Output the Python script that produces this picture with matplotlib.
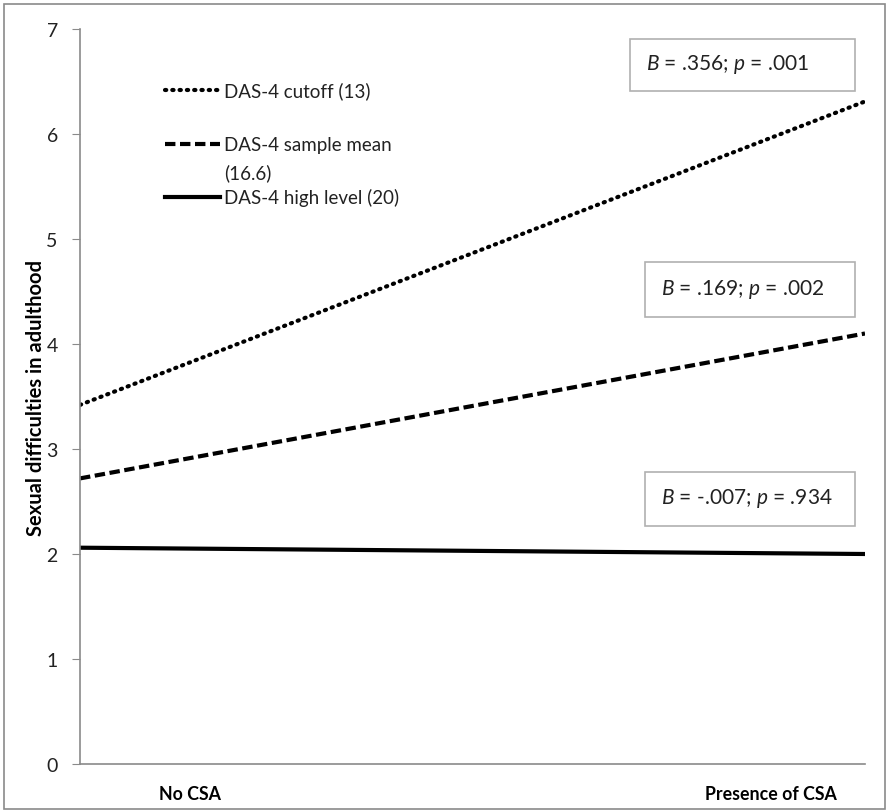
import matplotlib
matplotlib.use("Agg")
import matplotlib.pyplot as plt
from matplotlib.patches import Rectangle

plt.rcParams['font.family'] = ['Lato', 'DejaVu Sans']
plt.rcParams['mathtext.fontset'] = 'custom'
plt.rcParams['mathtext.it'] = 'Lato:italic'
plt.rcParams['mathtext.rm'] = 'Lato'

categories = ["No CSA", "Presence of CSA"]
series_names = ["DAS-4 cutoff (13)", "DAS-4 sample mean", "DAS-4 high level (20)"]
mean_extra = "(16.6)"
cutoff_vals = [3.42, 6.31]
mean_vals = [2.72, 4.10]
high_vals = [2.06, 2.00]
box_texts = [r"$B$ = .356; $p$ = .001",
             r"$B$ = .169; $p$ = .002",
             r"$B$ = -.007; $p$ = .934"]
y_ticks = [0, 1, 2, 3, 4, 5, 6, 7]

W, H = 888, 812
fig = plt.figure(figsize=(W / 100, H / 100), dpi=100)
ax = fig.add_axes([80 / W, 1 - 765 / H, (865 - 80) / W, (765 - 30) / H])

DOT = (0, (0.3, 1.45))
DASH = (0, (2.5, 1.1))
x = [0, 1]
ax.plot(x, cutoff_vals, color='black', lw=3.0, linestyle=DOT, dash_capstyle='round')
ax.plot(x, mean_vals, color='black', lw=3.0, linestyle=DASH)
ax.plot(x, high_vals, color='black', lw=3.0, linestyle='-')

ax.set_xlim(0, 1)
ax.set_ylim(0, 7)
ax.set_yticks(y_ticks)
ax.set_yticklabels([str(t) for t in y_ticks], fontsize=14, color='#222222')
ax.set_xticks([])
for s in ['top', 'right']:
    ax.spines[s].set_visible(False)
for s in ['left', 'bottom']:
    ax.spines[s].set_color('#8a8a8a')
    ax.spines[s].set_linewidth(1.2)
ax.tick_params(axis='y', direction='out', length=6, color='#8a8a8a', pad=10)

ax.set_ylabel("Sexual difficulties in adulthood", fontsize=14.5, fontweight='bold')
ax.yaxis.set_label_coords((46 - 80) / 785, 0.5)

# category labels
ax.text(110 / 785, -0.028, categories[0], transform=ax.transAxes, ha='center', va='top',
        fontsize=12.8, fontweight='bold')
ax.text(691 / 785, -0.028, categories[1], transform=ax.transAxes, ha='center', va='top',
        fontsize=12.8, fontweight='bold')

# legend (manual)
styles = [dict(linestyle=DOT, dash_capstyle='round'),
          dict(linestyle=DASH),
          dict(linestyle='-')]
leg_y = [91, 145, 198]
for name, st, yy in zip(series_names, styles, leg_y):
    yf = 1 - yy / H
    fig.add_artist(plt.Line2D([165 / W, 220 / W], [yf, yf], color='black', lw=3.0,
                              transform=fig.transFigure, **st))
    fig.text(224 / W, yf, name, fontsize=13.5, va='center', ha='left', color='#222222')
fig.text(224 / W, 1 - 173 / H, mean_extra, fontsize=13.5, va='center', ha='left',
         color='#222222')

# annotation boxes
boxes = [(630, 40, 855, 92), (645, 263, 855, 318), (645, 473, 855, 527)]
for (x0, y0, x1, y1), t in zip(boxes, box_texts):
    fig.add_artist(Rectangle((x0 / W, 1 - y1 / H), (x1 - x0) / W, (y1 - y0) / H,
                             transform=fig.transFigure, fill=False,
                             edgecolor='#b0b0b0', lw=1.2))
    fig.text((x0 + 16) / W, 1 - ((y0 + y1) / 2 - 1) / H, t, fontsize=15, va='center',
             ha='left', color='#222222')

# outer border
fig.add_artist(Rectangle((4 / W, 2 / H), (W - 7) / W, (H - 7) / H, transform=fig.transFigure,
                         fill=False, edgecolor='#8a8a8a', lw=1.2))

fig.savefig("out.png", dpi=100)
